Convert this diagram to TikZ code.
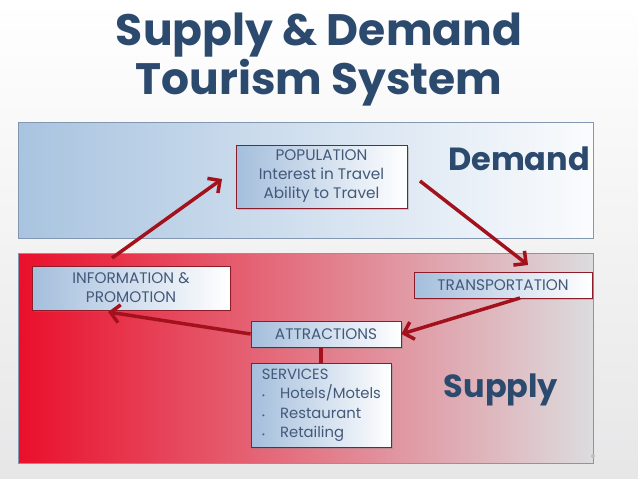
\documentclass[tikz,border=0pt]{standalone}
\usepackage{fontspec}
\setmainfont{Poppins}
\usetikzlibrary{arrows.meta,shadows}
\definecolor{titleblue}{HTML}{2C4A6E}
\definecolor{boxtext}{HTML}{43597A}
\definecolor{arrowred}{HTML}{A3121C}
\definecolor{boxborder}{HTML}{8C1C2A}
\definecolor{steel}{HTML}{A4BEDC}
\definecolor{bandblue}{HTML}{A9C4E0}
\definecolor{bandred}{HTML}{EA0F2B}
\definecolor{bandgray}{HTML}{DCDCDE}
\begin{document}
\begin{tikzpicture}[x=1pt,y=-1pt,
  band/.style={draw=steel!80!black, line width=0.6pt},
  cbox/.style={draw=boxborder, line width=0.8pt, left color=steel, right color=white,
     text=boxtext, font=\fontsize{15.3}{19}\selectfont, inner sep=1pt,
     drop shadow={shadow xshift=1.5pt, shadow yshift=-1.5pt, opacity=0.35}},
  flow/.style={draw=arrowred, line width=3.5pt, -{Straight Barb[length=9pt,width=18pt]}},
  bigword/.style={text=titleblue, font=\fontsize{32}{36}\selectfont\bfseries}
]
\useasboundingbox (0,0) rectangle (638,479);
\shade[top color=white, bottom color=bandgray!70] (0,0) rectangle (638,479);
% title
\node[text=titleblue, font=\fontsize{44}{49}\selectfont\bfseries, align=center] (title) at (319,60)
  {Supply \& Demand\\Tourism System};
% bands
\shade[band, left color=bandblue, right color=white!95!steel] (18,122) rectangle (593,238);
\shade[band, left color=bandred, right color=bandgray] (18,253) rectangle (593,463);
% big words
\node[bigword] (demand) at (519,159) {Demand};
\node[bigword] (supply) at (501,390) {Supply};
% boxes
\node[cbox, minimum width=171pt, minimum height=63pt, align=center] (pop) at (321.5,176.5)
  {POPULATION\\Interest in Travel\\Ability to Travel};
\node[cbox, minimum width=198pt, minimum height=44pt, align=center] (info) at (131,288)
  {INFORMATION \&\\PROMOTION};
\node[cbox, minimum width=178pt, minimum height=26pt] (trans) at (503,285) {TRANSPORTATION};
\node[cbox, minimum width=150pt, minimum height=26pt] (attr) at (326,334) {ATTRACTIONS};
\node[cbox, minimum width=140pt, minimum height=84pt, align=left, anchor=north west,
  inner xsep=2pt, inner ysep=4pt, font=\fontsize{14.8}{19.5}\selectfont] (serv) at (251,363)
  {SERVICES\\
   {\footnotesize\textbullet}\hspace{15pt}Hotels/Motels\\
   {\footnotesize\textbullet}\hspace{15pt}Restaurant\\
   {\footnotesize\textbullet}\hspace{15pt}Retailing};
% connectors
\coordinate (a1s) at (112,258);
\coordinate (a1e) at (222,179);
\draw[flow] (a1s) -- (a1e);
\coordinate (a2s) at (420,181);
\coordinate (a2e) at (528,265);
\draw[flow] (a2s) -- (a2e);
\coordinate (a3s) at (520,298);
\draw[flow] (a3s) -- (attr.east);
\coordinate (a4e) at (108,312);
\draw[flow] (attr.west) -- (a4e);
\draw[draw=arrowred, line width=3.5pt] (attr.south -| 321,0) -- (serv.north -| 321,0);
% slide dot
\fill[gray!50] (593,456) circle (2pt);
\end{tikzpicture}
\end{document}
